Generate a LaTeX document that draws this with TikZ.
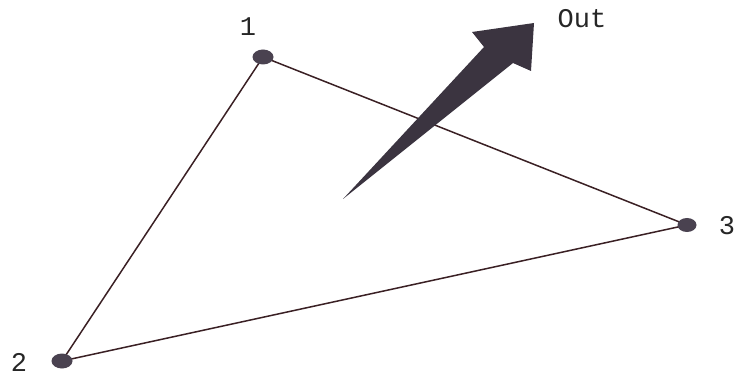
\documentclass[tikz,border=0pt]{standalone}
\usepackage{fontspec}
\setmonofont{Liberation Mono}
\usetikzlibrary{shapes.geometric}
\definecolor{arrowc}{HTML}{3B3440}
\definecolor{linec}{HTML}{3A2024}
\definecolor{dotc}{HTML}{4A4250}
\begin{document}
\begin{tikzpicture}[x=1pt,y=-1pt,
  vertex/.style={ellipse, fill=dotc, inner sep=0pt, minimum width=21pt, minimum height=15pt},
  lbl/.style={font=\ttfamily\fontsize{27}{27}\selectfont, inner sep=0pt, text=black!85},
  edge/.style={draw=linec, line width=1.5pt}]
\useasboundingbox (0,0) rectangle (735,379);
\coordinate (p1) at (263,57);
\coordinate (p2) at (62,361);
\coordinate (p3) at (687,225);
\draw[edge] (p1) -- (p2);
\draw[edge] (p2) -- (p3);
\draw[edge] (p1) -- (p3);
\node[vertex] (v1) at (p1) {};
\node[vertex] (v2) at (p2) {};
\node[vertex, minimum width=19pt, minimum height=14pt] (v3) at (p3) {};
\node[lbl] (l1) at (248,27) {1};
\node[lbl] (l2) at (19,362) {2};
\node[lbl] (l3) at (727,226) {3};
\node[lbl] (lout) at (582,19) {Out};
\fill[arrowc] (343,199) -- (484,47) -- (472,32) -- (534,23) -- (531,71) -- (513,63) -- cycle;
\end{tikzpicture}
\end{document}
